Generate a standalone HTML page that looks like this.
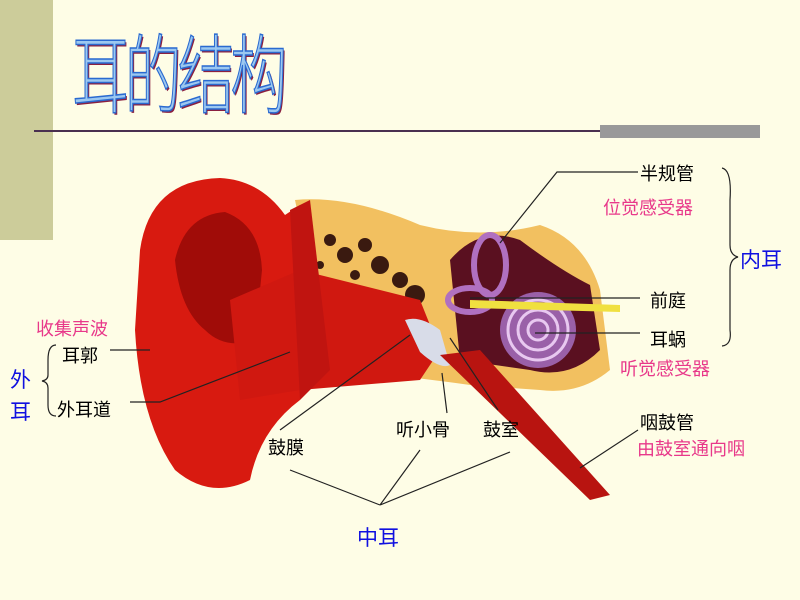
<!DOCTYPE html>
<html><head><meta charset="utf-8"><style>
body{margin:0;width:800px;height:600px;background:#FEFDE6;position:relative;overflow:hidden;font-family:"Liberation Sans","Noto Sans CJK SC",sans-serif}
.t{position:absolute;white-space:nowrap;font-size:18px;color:#000}
.p{color:#E8388A}
.b{color:#1010E0;font-size:21px}
</style></head><body>
<div style="position:absolute;left:0;top:0;width:53px;height:240px;background:#CCCC9A"></div>
<div style="position:absolute;left:34px;top:130px;width:726px;height:2px;background:#4a3050"></div>
<div style="position:absolute;left:600px;top:125px;width:160px;height:13px;background:#999"></div>
<div style="position:absolute;left:72px;top:26px;font-size:86px;line-height:1;color:#9cc8f0;-webkit-text-stroke:1.5px #2a6ad0;text-shadow:2px 2px 0 #8a2040;font-family:'Noto Sans CJK SC',sans-serif;font-weight:300;letter-spacing:-6px;transform:scaleX(0.66);transform-origin:left">耳的结构</div>
<svg width="800" height="600" style="position:absolute;left:0;top:0">
<path d="M295 200 Q350 195 420 225 Q480 240 540 225 Q585 240 600 290 L610 370 Q580 395 540 390 L470 385 Q400 375 330 370 Z" fill="#F2C060"/>
<g fill="#3a1a10"><circle cx="330" cy="240" r="6"/><circle cx="345" cy="255" r="8"/><circle cx="365" cy="245" r="7"/><circle cx="380" cy="265" r="9"/><circle cx="400" cy="280" r="8"/><circle cx="320" cy="265" r="4"/><circle cx="355" cy="275" r="5"/><circle cx="415" cy="295" r="10"/><circle cx="520" cy="275" r="4"/><circle cx="530" cy="290" r="3"/><circle cx="590" cy="330" r="4"/></g>
<path d="M450 260 Q480 225 520 240 Q560 270 590 285 L600 350 Q570 380 530 370 L460 360 Z" fill="#5a1020"/>
<path d="M140 250 Q150 180 220 178 Q260 180 285 215 L300 205 L310 260 L300 400 Q260 430 250 480 Q210 500 175 470 Q140 420 135 330 Z" fill="#D81A10"/>
<path d="M175 260 Q185 215 225 212 Q260 225 262 270 L255 340 Q225 350 205 330 Q180 310 175 260Z" fill="#A00C08"/>
<path d="M230 300 L300 270 L420 300 L440 350 L420 380 L300 390 L240 400 Z" fill="#D01810"/>
<path d="M290 210 L310 200 L330 370 L300 400 Z" fill="#C01410"/>
<path d="M405 320 Q420 315 440 330 L450 365 Q440 370 420 352 Z" fill="#d8dce8"/>
<path d="M440 355 L480 350 L610 495 L590 500 Z" fill="#B81410"/>
<g fill="none" stroke="#b070c0" stroke-width="6"><ellipse cx="490" cy="265" rx="16" ry="30"/><ellipse cx="470" cy="300" rx="22" ry="12"/></g>
<circle cx="538" cy="330" r="38" fill="#9a60a8"/>
<g fill="none" stroke="#e8c8f0" stroke-width="3"><circle cx="538" cy="330" r="30"/><circle cx="538" cy="330" r="20"/><circle cx="538" cy="330" r="10"/></g>
<path d="M470 300 L620 305 L620 312 L470 308Z" fill="#F0E040"/>
<g stroke="#222" stroke-width="1.2" fill="none">
<path d="M638 172 L557 172 L500 243"/>
<path d="M640 298 L470 298"/>
<path d="M640 333 L535 333"/>
<path d="M280 430 L410 335"/>
<path d="M447 413 L442 373"/>
<path d="M498 410 L450 338"/>
<path d="M638 430 L580 468"/>
<path d="M110 350 L150 350"/>
<path d="M130 402 L160 402 L290 352"/>
<path d="M380 505 L290 470 M380 505 L420 450 M380 505 L510 452"/>
<path d="M722 168 Q732 170 730 200 L730 245 Q730 255 738 257 Q730 259 730 270 L730 330 Q732 345 722 346"/>
<path d="M56 345 Q48 345 48 360 L48 375 Q48 380 42 381 Q48 382 48 388 L48 405 Q48 416 56 416"/>
</g>
</svg>
<div class="t" style="left:640px;top:160px">半规管</div>
<div class="t p" style="left:603px;top:194px">位觉感受器</div>
<div class="t b" style="left:740px;top:244px">内耳</div>
<div class="t" style="left:650px;top:287px">前庭</div>
<div class="t" style="left:650px;top:326px">耳蜗</div>
<div class="t p" style="left:620px;top:355px">听觉感受器</div>
<div class="t" style="left:640px;top:409px">咽鼓管</div>
<div class="t p" style="left:637px;top:435px">由鼓室通向咽</div>
<div class="t p" style="left:36px;top:315px">收集声波</div>
<div class="t" style="left:62px;top:342px">耳郭</div>
<div class="t" style="left:57px;top:396px">外耳道</div>
<div class="t b" style="left:10px;top:364px">外</div>
<div class="t b" style="left:10px;top:396px">耳</div>
<div class="t" style="left:268px;top:434px">鼓膜</div>
<div class="t" style="left:396px;top:416px">听小骨</div>
<div class="t" style="left:483px;top:416px">鼓室</div>
<div class="t b" style="left:357px;top:522px">中耳</div>
</body></html>
